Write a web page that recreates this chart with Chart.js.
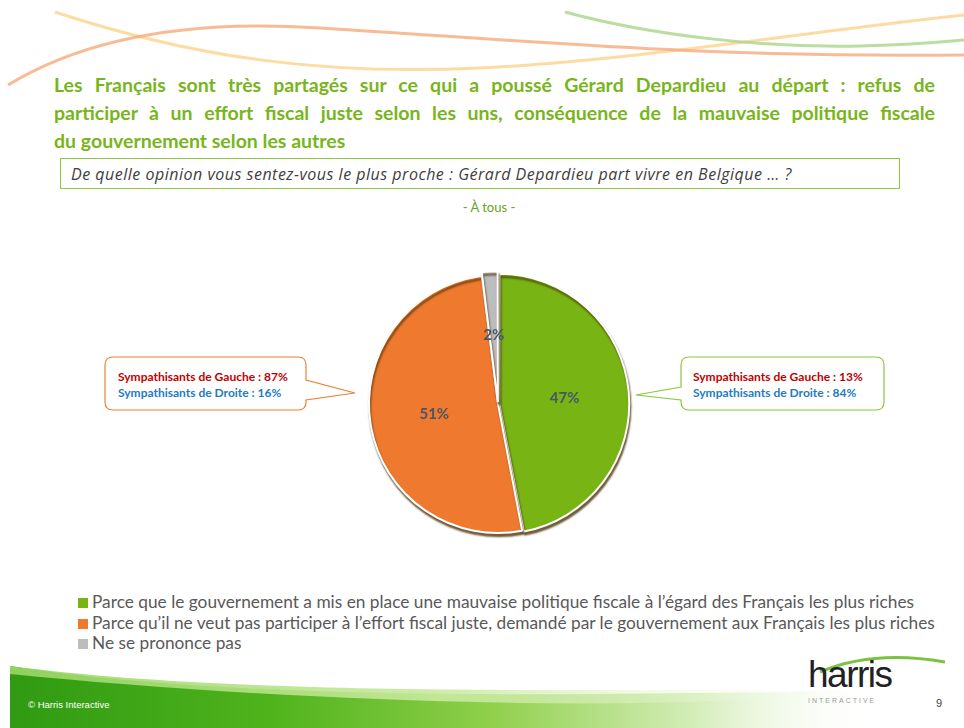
<!DOCTYPE html>
<html>
<head>
<meta charset="utf-8">
<script src="https://cdn.jsdelivr.net/npm/chart.js@4"></script>
<style>
  html, body { margin: 0; padding: 0; background: #fff; }
  #page { position: relative; width: 964px; height: 728px; overflow: hidden; font-family: Lato, "Open Sans", sans-serif; }
  #deco { position: absolute; left: 0; top: 0; }
  .title { position: absolute; left: 54px; width: 881px; font-weight: bold; font-size: 19.5px; color: #78b51c; line-height: 28px; }
  .title div { text-align: justify; text-align-last: justify; white-space: nowrap; }
  .title div.last { text-align-last: left; }
  #question { position: absolute; left: 60px; top: 158px; height: 31px; border: 1px solid #8dc63f; width: 840px;
    font-family: "Open Sans", sans-serif; font-style: italic; font-size: 16px; color: #404040; line-height: 31px;
    padding-left: 10px; box-sizing: border-box; letter-spacing: 0.5px; }
  #base { position: absolute; left: 0; width: 978px; top: 199px; text-align: center; color: #6aa321; font-size: 13px; }
  #pieWrap { position: absolute; left: 348px; top: 254px; width: 300px; height: 300px; }
  #legend { position: absolute; left: 78px; top: 592px; font-family: Lato, sans-serif; font-size: 17.3px; color: #595959; line-height: 20.5px; }
  #legend .item { white-space: nowrap; }
  #legend .sw { display: inline-block; width: 10px; height: 10px; margin-right: 4px; vertical-align: 0px; }
  #foot { position: absolute; left: 28px; top: 699px; font-size: 9.5px; color: #fff; font-family: "Liberation Sans", Arial, sans-serif; }
  #num { position: absolute; left: 936px; top: 697px; font-size: 11px; color: #444; font-family: "Liberation Sans", Arial, sans-serif; }
  #logo { position: absolute; left: 808px; top: 656px; font-family: "Liberation Sans Narrow", "Liberation Sans", sans-serif; color: #222; }
  #logo .h { font-size: 37px; letter-spacing: -1.5px; line-height: 38px; }
  #logo .i { font-size: 7px; letter-spacing: 2px; color: #999; margin-top: 3px; }
</style>
</head>
<body>
<div id="page">
  <svg id="deco" width="964" height="728">
    <defs>
      <linearGradient id="band" x1="0" y1="0" x2="1" y2="0">
        <stop offset="0" stop-color="#2f9a12"/>
        <stop offset="0.3" stop-color="#4fb31c"/>
        <stop offset="0.55" stop-color="#8fcf4a"/>
        <stop offset="0.8" stop-color="#d8efbf"/>
        <stop offset="1" stop-color="#ffffff" stop-opacity="0"/>
      </linearGradient>
      <linearGradient id="hl" x1="0" y1="0" x2="1" y2="0">
        <stop offset="0" stop-color="#9ad765"/>
        <stop offset="0.5" stop-color="#c9ea9f"/>
        <stop offset="1" stop-color="#ffffff" stop-opacity="0"/>
      </linearGradient>
    </defs>
    <!-- top swooshes -->
    <path d="M55,12 C200,60 330,75 480,68 C640,60 820,30 964,15" fill="none" stroke="#fbd38c" stroke-width="3" opacity="0.8"/>
    <path d="M8,85 C90,35 200,20 320,28 C520,40 700,58 964,55" fill="none" stroke="#f7a97c" stroke-width="3" opacity="0.8"/>
    <path d="M565,12 C650,35 760,48 860,46 C910,45 940,42 964,40" fill="none" stroke="#a9d58a" stroke-width="3" opacity="0.8"/>
    <!-- bottom band -->
    <path d="M10,666 C150,688 350,696 600,694 C720,693 820,692 880,690 L880,728 L10,728 Z" fill="url(#band)"/>
    <path d="M10,666 C150,684 320,690 560,690 C700,690 800,690 880,690 C780,700 650,705 520,703 C330,700 150,688 10,674 Z" fill="url(#hl)" opacity="0.9"/>
    <path d="M820,672 C860,655 905,655 945,662" fill="none" stroke="#7cc242" stroke-width="3"/>
    <!-- callouts -->
    <path d="M113,357 H298 Q306,357 306,365 V380 L355,393 L306,400 V402 Q306,410 298,410 H113 Q105,410 105,402 V365 Q105,357 113,357 Z"
      fill="#fff" stroke="#f08030" stroke-width="1.2"/>
    <text x="118" y="381" font-family="Lato, sans-serif" font-weight="bold" font-size="12" fill="#c00000">Sympathisants de Gauche : 87%</text>
    <text x="118" y="397" font-family="Lato, sans-serif" font-weight="bold" font-size="12" fill="#1f7bbf">Sympathisants de Droite : 16%</text>
    <path d="M689,357 H876 Q884,357 884,365 V402 Q884,410 876,410 H689 Q681,410 681,402 V400 L636,395 L681,387 V365 Q681,357 689,357 Z"
      fill="#fff" stroke="#8cc63f" stroke-width="1.2"/>
    <text x="693" y="381" font-family="Lato, sans-serif" font-weight="bold" font-size="12" fill="#c00000">Sympathisants de Gauche : 13%</text>
    <text x="693" y="397" font-family="Lato, sans-serif" font-weight="bold" font-size="12" fill="#1f7bbf">Sympathisants de Droite : 84%</text>
  </svg>

  <div class="title" style="top:71px">
    <div>Les Français sont très partagés sur ce qui a poussé Gérard Depardieu au départ : refus de</div>
    <div>participer à un effort fiscal juste selon les uns, conséquence de la mauvaise politique fiscale</div>
    <div class="last">du gouvernement selon les autres</div>
  </div>
  <div id="question">De quelle opinion vous sentez-vous le plus proche : Gérard Depardieu part vivre en Belgique … ?</div>
  <div id="base">- À tous -</div>

  <div id="pieWrap"><canvas id="pie" width="300" height="300"></canvas></div>

  <div id="legend"></div>

  <div id="foot">© Harris Interactive</div>
  <div id="logo"><div class="h">harris</div><div class="i">INTERACTIVE</div></div>
  <div id="num">9</div>
</div>

<script>
const labels = [
  "Parce que le gouvernement a mis en place une mauvaise politique fiscale à l’égard des Français les plus riches",
  "Parce qu’il ne veut pas participer à l’effort fiscal juste, demandé par le gouvernement aux Français les plus riches",
  "Ne se prononce pas"
];
const values = [47, 51, 2];
const colors = ["#78b414", "#ef7a2f", "#bdbdbd"];
const offsets = [5, 0, 8];

// darker rim under the pie, like the 3D look of the original
const shadowPlugin = {
  id: "shadow",
  beforeDatasetsDraw(chart) {
    const ctx = chart.ctx;
    ctx.save();
    ctx.shadowColor = "rgba(70,45,0,0.75)";
    ctx.shadowBlur = 2;
    ctx.shadowOffsetX = 1;
    ctx.shadowOffsetY = 3;
  },
  afterDatasetsDraw(chart) {
    chart.ctx.restore();
  }
};

const valueLabels = {
  id: "valueLabels",
  afterDraw(chart) {
    const ctx = chart.ctx;
    const meta = chart.getDatasetMeta(0);
    ctx.save();
    ctx.font = "bold 15px Lato, sans-serif";
    ctx.fillStyle = "#46566a";
    ctx.textAlign = "center";
    ctx.textBaseline = "middle";
    meta.data.forEach((arc, i) => {
      const p = arc.tooltipPosition();
      ctx.fillText(values[i] + "%", p.x, p.y);
    });
    ctx.restore();
  }
};

new Chart(document.getElementById("pie"), {
  type: "pie",
  data: {
    labels,
    datasets: [{
      data: values,
      backgroundColor: colors,
      borderColor: "#ffffff",
      borderWidth: 2,
      offset: offsets,
      hoverOffset: 0
    }]
  },
  options: {
    responsive: false,
    animation: false,
    radius: 129,
    layout: { padding: 0 },
    plugins: {
      legend: { display: false },
      tooltip: { enabled: false }
    }
  },
  plugins: [shadowPlugin, valueLabels]
});

const legend = document.getElementById("legend");
labels.forEach((l, i) => {
  const row = document.createElement("div");
  row.className = "item";
  row.innerHTML = '<span class="sw" style="background:' + colors[i] + '"></span>' + l;
  legend.appendChild(row);
});
</script>
</body>
</html>
